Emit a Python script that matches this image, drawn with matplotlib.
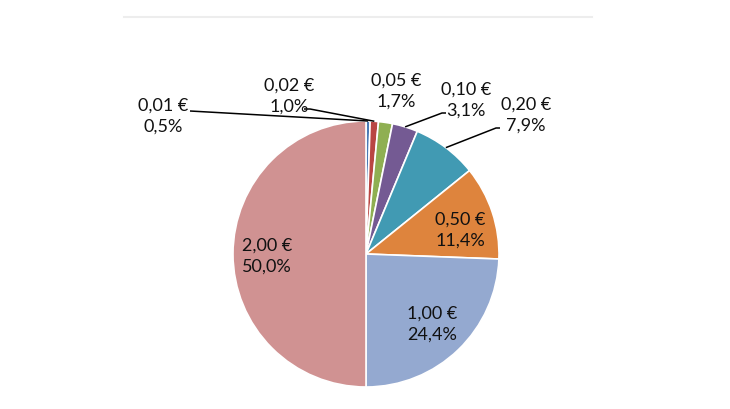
import numpy as np
from matplotlib import pyplot as plt
from matplotlib.lines import Line2D

coins = ["0,01 €", "0,02 €", "0,05 €", "0,10 €", "0,20 €", "0,50 €", "1,00 €", "2,00 €"]
shares = [0.5, 1.0, 1.7, 3.1, 7.9, 11.4, 24.4, 50.0]
pct_labels = ["0,5%", "1,0%", "1,7%", "3,1%", "7,9%", "11,4%", "24,4%", "50,0%"]
colors = ["#4A79B4", "#B94643", "#8FAF52", "#745A93", "#419AB3", "#DE843D", "#94A9D0", "#D09292"]

W, H = 730, 410
fig = plt.figure(figsize=(7.3, 4.1), dpi=100)
ax = fig.add_axes([0, 0, 1, 1])

cx, cy, r = 366, H - 255, 133
wedges, _ = ax.pie(shares, colors=colors, startangle=90, counterclock=False,
                   center=(cx, cy), radius=r, frame=True,
                   wedgeprops=dict(edgecolor="white", linewidth=1.2))
ax.set_xlim(0, W)
ax.set_ylim(0, H)
ax.set_aspect("equal")
ax.axis("off")

# label text centers in pixel coords (from top), elbow point for leader lines
label_pos = [(163, 116), (289, 96), (396, 91), (466, 100), (526, 115),
             (460, 230), (432, 324), (267, 256)]
elbows = [(190, 112), (310, 110), None, (442, 114), (496, 129),
          None, None, None]
fs = 13
for i, w in enumerate(wedges):
    x, y = label_pos[i]
    ax.text(x, H - y, coins[i] + "\n" + pct_labels[i], ha="center", va="center",
            fontsize=fs, family=["Lato", "DejaVu Sans"], linespacing=1.42,
            color="#111111")
    if elbows[i] is not None:
        ang = np.deg2rad((w.theta1 + w.theta2) / 2)
        px, py = cx + r * np.cos(ang), cy + r * np.sin(ang)
        ex, ey = elbows[i]
        if i == 0:
            xs, ys = [ex, px], [H - ey, py]
        elif i == 1:
            xs, ys = [ex - 6, ex, px], [H - ey, H - ey, py]
        else:
            xs, ys = [ex + 4, ex, px], [H - ey, H - ey, py]
        ax.plot(xs, ys, color="black", lw=1.1, solid_capstyle="butt")

fig.add_artist(Line2D([124 / W, 592 / W], [1 - 17.5 / H, 1 - 17.5 / H],
                      color="#EDEDED", lw=1.5))

fig.savefig("out.png", dpi=100)
